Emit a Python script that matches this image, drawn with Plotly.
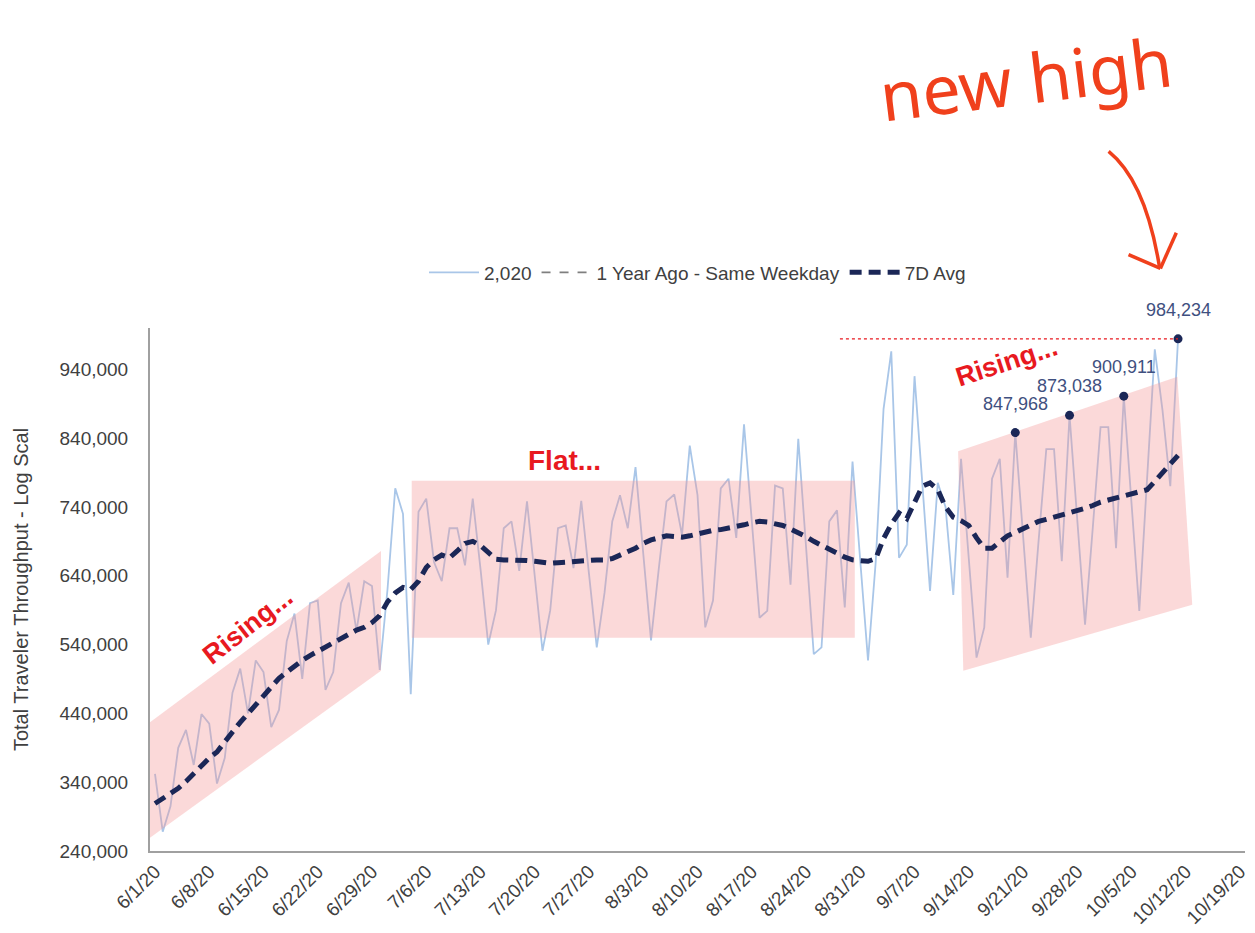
import plotly.graph_objects as go
import pandas as pd

# ---------------- data ----------------
dates = pd.date_range("2020-06-01", periods=133, freq="D")

travel_2020 = [
    352000, 268000, 305000, 390000, 416000, 365000, 439000,
    425000, 338000, 375000, 470000, 505000, 440000, 517000,
    500000, 420000, 445000, 545000, 585000, 490000, 600000,
    604000, 474000, 500000, 600000, 630000, 560000, 632000,
    625000, 503000, 620000, 767000, 730000, 468000, 733000,
    752000, 660000, 632000, 709000, 709000, 655000, 752000,
    650000, 540000, 590000, 709000, 719000, 647000, 748000,
    640000, 531000, 590000, 709000, 713000, 651000, 749000,
    640000, 536000, 615000, 719000, 757000, 709000, 798000,
    670000, 546000, 650000, 748000, 758000, 699000, 829000,
    757000, 565000, 604000, 767000, 781000, 695000, 860000,
    720000, 579000, 589000, 771000, 767000, 627000, 839000,
    680000, 526000, 536000, 719000, 735000, 594000, 806000,
    660000, 517000, 661000, 882000, 966000, 666000, 685000,
    930000, 775000, 618000, 775000, 740000, 612000, 810000,
    665000, 521000, 565000, 781000, 810000, 637000, 847968,
    700000, 550000, 690000, 824000, 824000, 661000, 873038,
    720000, 569000, 710000, 856000, 856000, 680000, 900911,
    745000, 589000, 780000, 969000, 880000, 770000, 984234,
]

avg_7d = [v * 1000 for v in [
    309, 316, 322, 331, 341, 353, 364, 375, 384, 400,
    413, 427, 440, 454, 467, 479, 491, 500, 509, 517,
    524, 530, 537, 542, 550, 556, 561, 565, 572, 582,
    602, 615, 623, 620, 632, 652, 663, 670, 666, 676,
    687, 690, 684, 674, 664, 663, 663, 663, 662, 661,
    659, 658, 659, 660, 661, 661, 662, 663, 663, 665,
    670, 675, 680, 687, 692, 695, 698, 697, 696, 698,
    701, 704, 706, 707, 709, 711, 714, 717, 719, 718,
    716, 713, 708, 703, 697, 690, 684, 677, 672, 667,
    663, 662, 661, 665, 694, 715, 731, 723, 745, 770,
    775, 765, 740, 725, 720, 713, 695, 680, 680, 690,
    698, 703, 708, 713, 719, 722, 725, 728, 731, 735,
    738, 742, 747, 750, 753, 756, 759, 761, 765, 777,
    790, 803, 815,
]]

# "1 Year Ago - Same Weekday" lies far above the visible range -> no visible values
year_ago_dates = [dates[0]]
year_ago_values = [None]

peak_dates = ["2020-09-20", "2020-09-27", "2020-10-04", "2020-10-11"]
peak_values = [847968, 873038, 900911, 984234]

y_ticks = list(range(240000, 940001, 100000))
x_ticks = pd.date_range("2020-06-01", "2020-10-19", freq="7D")
x_tick_text = [f"{d.month}/{d.day}/{d.strftime('%y')}" for d in x_ticks]

# highlighted trend zones (decoration)
zone_rise1_x = ["2020-05-31 08:00", "2020-06-30 04:00", "2020-06-30 04:00", "2020-05-31 08:00"]
zone_rise1_y = [427000, 676000, 502000, 259000]
zone_flat_x = ["2020-07-04 03:00", "2020-08-30 07:00", "2020-08-30 07:00", "2020-07-04 03:00"]
zone_flat_y = [778000, 778000, 550000, 550000]
zone_rise2_x = ["2020-09-12 15:00", "2020-10-10 22:00", "2020-10-12 20:00", "2020-09-13 07:00"]
zone_rise2_y = [821000, 929000, 598000, 502000]

# ---------------- geometry helpers for decorations ----------------
L, R, T, B = 150, 5, 328, 78
W, H = 1255, 933
PW, PH = W - L - R, H - T - B


def px(X):
    return (X - L) / PW


def py(Y):
    return (H - B - Y) / PH


FONT = "Liberation Sans, Arial, sans-serif"
TXT = "#404040"
NAVY = "#1B2757"
LIGHT = "#A9C6E8"
RED = "#E8191F"
ORANGE = "#F0401C"
PINK = "rgba(245,150,150,0.36)"

fig = go.Figure()

fig.add_trace(go.Scatter(
    x=dates, y=travel_2020, mode="lines", name="2,020",
    line=dict(color=LIGHT, width=1.8), hoverinfo="skip",
))
fig.add_trace(go.Scatter(
    x=year_ago_dates, y=year_ago_values, mode="lines",
    name="1 Year Ago - Same Weekday",
    line=dict(color="#7F7F7F", width=1.8, dash="dash"),
))

for zx, zy in [(zone_rise1_x, zone_rise1_y), (zone_flat_x, zone_flat_y),
               (zone_rise2_x, zone_rise2_y)]:
    fig.add_trace(go.Scatter(
        x=zx, y=zy, fill="toself", fillcolor=PINK, mode="lines",
        line=dict(width=0), showlegend=False, hoverinfo="skip",
    ))

fig.add_trace(go.Scatter(
    x=dates, y=avg_7d, mode="lines", name="7D Avg",
    line=dict(color=NAVY, width=5, dash="12px,7px"), hoverinfo="skip",
))

fig.add_trace(go.Scatter(
    x=peak_dates, y=peak_values, mode="markers", showlegend=False,
    marker=dict(color=NAVY, size=9),
))

# red dotted "new high" reference line
fig.add_shape(type="line", xref="x", yref="y",
              x0="2020-08-28 09:00", x1=peak_dates[-1],
              y0=peak_values[-1], y1=peak_values[-1],
              line=dict(color=RED, width=1.3, dash="3px,3px"))

annotations = []
for d, v in zip(peak_dates, peak_values):
    annotations.append(dict(
        x=d, y=v, xref="x", yref="y", text=f"{v:,}", showarrow=False,
        xanchor="center", yanchor="middle",
        yshift=29, font=dict(family=FONT, size=18, color="#3F5080"),
    ))

annotations += [
    dict(x=px(248), y=py(628), xref="paper", yref="paper", text="<b>Rising...</b>",
         xanchor="center", yanchor="middle",
         showarrow=False, textangle=-38, font=dict(family=FONT, size=27, color=RED)),
    dict(x=px(566), y=py(462), xref="paper", yref="paper", text="<b>Flat...</b>",
         xanchor="center", yanchor="middle",
         showarrow=False, font=dict(family=FONT, size=28, color=RED)),
    dict(x=px(1010), y=py(362), xref="paper", yref="paper", text="<b>Rising...</b>",
         xanchor="center", yanchor="middle",
         showarrow=False, textangle=-18, font=dict(family=FONT, size=27, color=RED)),
    dict(x=px(1030), y=py(76), xref="paper", yref="paper", text="new high",
         xanchor="center", yanchor="middle",
         showarrow=False, textangle=-7,
         font=dict(family="Noto Sans, sans-serif", size=68, color=ORANGE)),
]

# hand-drawn arrow
fig.add_shape(type="path", xref="paper", yref="paper",
              path=f"M {px(1113)},{py(150)} Q {px(1150)},{py(180)} {px(1164)},{py(266)}",
              line=dict(color=ORANGE, width=3.5))
fig.add_shape(type="line", xref="paper", yref="paper",
              x0=px(1133), y0=py(254), x1=px(1165), y1=py(268),
              line=dict(color=ORANGE, width=3.5))
fig.add_shape(type="line", xref="paper", yref="paper",
              x0=px(1181), y0=py(232), x1=px(1165), y1=py(268),
              line=dict(color=ORANGE, width=3.5))

fig.update_layout(
    width=W, height=H,
    margin=dict(l=L, r=R, t=T, b=B, pad=0),
    paper_bgcolor="white", plot_bgcolor="white",
    font=dict(family=FONT, size=19, color=TXT),
    showlegend=True,
    legend=dict(orientation="h", x=0.5, xanchor="center", y=py(272), yanchor="middle",
                itemwidth=50,
                font=dict(family=FONT, size=19, color=TXT), bgcolor="rgba(0,0,0,0)"),
    annotations=annotations,
    xaxis=dict(
        type="date", range=["2020-05-31 08:35", "2020-10-19 15:20"],
        tickmode="array", tickvals=x_ticks, ticktext=x_tick_text, tickangle=-45,
        tickfont=dict(family=FONT, size=19, color=TXT),
        showgrid=False, zeroline=False, showline=True, linecolor="#A0A0A0", linewidth=2,
        ticks="",
    ),
    yaxis=dict(
        range=[240000, 1000000], tickmode="array", tickvals=y_ticks,
        ticktext=[f"{v:,}" for v in y_ticks],
        tickfont=dict(family=FONT, size=19, color=TXT),
        ticklabelstandoff=16,
        showgrid=False, zeroline=False, showline=True, linecolor="#A0A0A0", linewidth=2,
        ticks="",
        title=dict(text="Total Traveler Throughput - Log Scal", standoff=26,
                   font=dict(family=FONT, size=20, color=TXT)),
    ),
)

fig.write_html("out.html")
